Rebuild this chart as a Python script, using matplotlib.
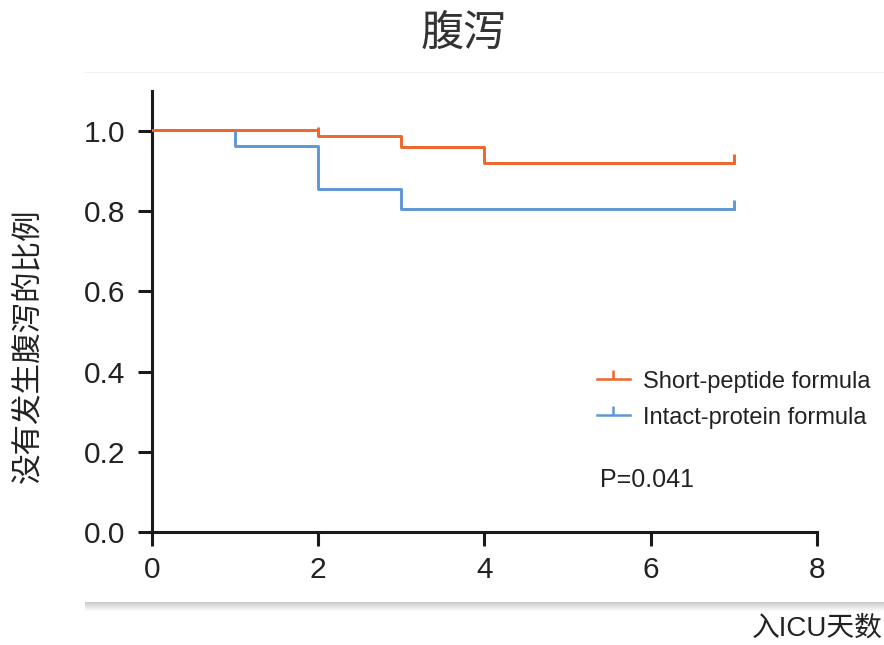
import matplotlib
matplotlib.use('Agg')
import matplotlib.pyplot as plt
from matplotlib.lines import Line2D
from matplotlib.patches import Rectangle

plt.rcParams['font.family'] = ['Liberation Sans', 'Noto Sans CJK SC', 'DejaVu Sans']

# step points (days, proportion without diarrhea)
short_days = [0, 2, 3, 4, 7]
short_surv = [1.003, 0.988, 0.96, 0.92, 0.92]
short_censor_days = [2, 7]
short_censor_surv = [0.988, 0.92]

intact_days = [0, 1, 2, 3, 7]
intact_surv = [1.003, 0.962, 0.855, 0.805, 0.805]
intact_censor_days = [7]
intact_censor_surv = [0.805]

labels = ['Short-peptide formula', 'Intact-protein formula']
x_ticks = [0, 2, 4, 6, 8]
y_ticks = [0.0, 0.2, 0.4, 0.6, 0.8, 1.0]

orange = '#F0652A'
blue = '#5E97D6'
txt = '#222222'

fig = plt.figure(figsize=(8.84, 6.45), dpi=100)

# shadow under the panel + faint top edge
for i in range(9):
    fig.patches.append(Rectangle((85 / 884, (645 - 603 - i) / 645), 1, 1 / 645,
                                 transform=fig.transFigure, color='#808080',
                                 alpha=0.4 * (1 - i / 9), lw=0, zorder=0))
fig.patches.append(Rectangle((85 / 884, (645 - 73) / 645), 1, 1.2 / 645,
                             transform=fig.transFigure, color='#f0f0f0', lw=0, zorder=0))

ax = fig.add_axes([0.172, 0.1752, 0.752, 0.684])

ax.step(short_days, short_surv, where='post', color=orange, lw=2.1, zorder=3)
ax.step(intact_days, intact_surv, where='post', color=blue, lw=2.1, zorder=2)
ax.plot(short_censor_days, short_censor_surv, ls='none', marker=2, ms=6.5, mew=2.1, color=orange, zorder=3)
ax.plot(intact_censor_days, intact_censor_surv, ls='none', marker=2, ms=6.5, mew=2.1, color=blue, zorder=2)

ax.set_xlim(0, 8)
ax.set_ylim(0, 1.1)
ax.set_xticks(x_ticks)
ax.set_yticks(y_ticks)
ax.set_yticklabels([f'{v:.1f}' for v in y_ticks])
ax.spines['top'].set_visible(False)
ax.spines['right'].set_visible(False)
for s in ['left', 'bottom']:
    ax.spines[s].set_linewidth(2.2)
    ax.spines[s].set_color('#1a1a1a')
ax.tick_params(axis='both', length=10, width=2.2, color='#1a1a1a', labelsize=21.5,
               labelcolor=txt)
ax.tick_params(axis='y', pad=9)
ax.tick_params(axis='x', pad=7)
ax.set_ylabel('没有发生腹泻的比例', fontsize=22, color=txt)
ax.yaxis.set_label_coords(-0.164, 0.423)

handles = [Line2D([], [], color=orange, lw=1.8, marker=2, ms=6.5, mew=1.8),
           Line2D([], [], color=blue, lw=1.8, marker=2, ms=6.5, mew=1.8)]
ax.legend(handles, labels, loc='upper left', bbox_to_anchor=(0.669, 0.366), frameon=False,
          fontsize=17, handlelength=1.4, handletextpad=0.55, labelspacing=0.6,
          borderpad=0, borderaxespad=0, labelcolor=txt)

ax.text(0.674, 0.118, 'P=0.041', transform=ax.transAxes, fontsize=18, color=txt, va='center')

fig.text(0.525, 0.946, '腹泻', ha='center', va='center', fontsize=31, color='#333333')
fig.text(0.999, 0.026, '入ICU天数', ha='right', va='center', fontsize=20, color=txt)

fig.savefig('out.png', dpi=100)
